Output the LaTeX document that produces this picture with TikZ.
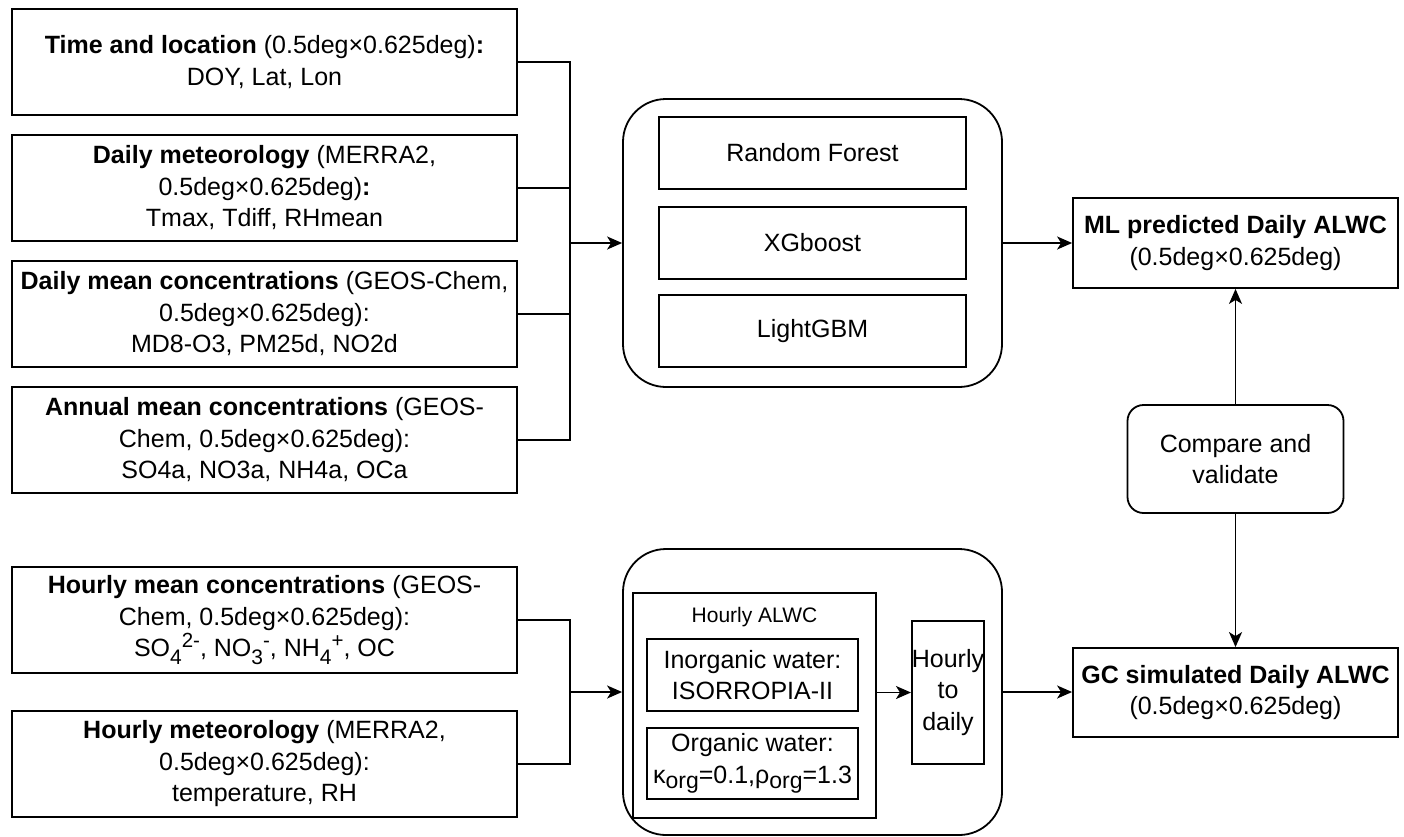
\documentclass[tikz,border=0pt]{standalone}
\usepackage{fontspec}
\setmainfont{Liberation Sans}
\usetikzlibrary{arrows.meta}
\newcommand\mysb[1]{\raisebox{-0.3em}{\fontsize{21}{21}\selectfont #1}}
\newcommand\mysp[1]{\raisebox{0.38em}{\fontsize{20.5}{20.5}\selectfont #1}}
\newcommand\myorg[1]{\raisebox{-0.22em}{\fontsize{23}{23}\selectfont #1}}
\tikzset{
  base/.style={draw, line width=1.8pt, inner sep=0pt, align=center, font=\fontsize{25}{31.5}\selectfont},
  box/.style={base, rectangle},
  grp/.style={base, rectangle, rounded corners=43pt},
  conn/.style={line width=1.8pt},
  arr/.style={conn, -{Stealth[length=15pt,width=13pt,inset=4pt]}},
}
\begin{document}
\begin{tikzpicture}[x=1pt,y=-1pt]
\fill[white] (0,0) rectangle (1404,836);
\useasboundingbox (0,0) rectangle (1404,836);
% left input boxes
\node[box, minimum width=505pt, minimum height=106pt] (b1) at (264.5,62)
  {\textbf{Time and location} (0.5deg×0.625deg)\textbf{:}\\DOY, Lat, Lon};
\node[box, minimum width=505pt, minimum height=106pt] (b2) at (264.5,188)
  {\textbf{Daily meteorology} (MERRA2,\\0.5deg×0.625deg)\textbf{:}\\Tmax, Tdiff, RHmean};
\node[box, minimum width=505pt, minimum height=106pt] (b3) at (264.5,314)
  {\textbf{Daily mean concentrations} (GEOS-Chem,\\0.5deg×0.625deg):\\MD8-O3, PM25d, NO2d};
\node[box, minimum width=505pt, minimum height=106pt] (b4) at (264.5,440)
  {\textbf{Annual mean concentrations} (GEOS-\\Chem, 0.5deg×0.625deg):\\SO4a, NO3a, NH4a, OCa};
\node[box, minimum width=505pt, minimum height=106pt] (b5) at (264.5,620)
  {\textbf{Hourly mean concentrations} (GEOS-\\Chem, 0.5deg×0.625deg):\\SO\mysb{4}\mysp{2-}, NO\mysb{3}\mysp{-}, NH\mysb{4}\mysp{+}, OC};
\node[box, minimum width=505pt, minimum height=106pt] (b6) at (264.5,764)
  {\textbf{Hourly meteorology} (MERRA2,\\0.5deg×0.625deg):\\temperature, RH};
% ML group
\node[grp, minimum width=379pt, minimum height=288pt] (top) at (812.5,243) {};
\node[box, minimum width=307pt, minimum height=72pt] (rf) at (812.5,153) {Random Forest};
\node[box, minimum width=307pt, minimum height=72pt] (xg) at (812.5,243) {XGboost};
\node[box, minimum width=307pt, minimum height=72pt] (lg) at (812.5,331) {LightGBM};
% GC group
\node[grp, minimum width=379pt, minimum height=286pt] (bot) at (812.5,692) {};
\node[box, minimum width=243pt, minimum height=225pt] (alwc) at (754.5,705.5) {};
\node[font=\fontsize{21}{25}\selectfont, inner sep=0pt] (alwclab) at (754.5,617) {Hourly ALWC};
\node[box, minimum width=211pt, minimum height=72pt] (inorg) at (752.5,675) {Inorganic water:\\ISORROPIA-II};
\node[box, minimum width=211pt, minimum height=71pt] (org) at (752.5,763.5)
  {Organic water:\\κ\myorg{org}=0.1,ρ\myorg{org}=1.3};
\node[box, minimum width=72pt, minimum height=143pt] (h2d) at (948,692.5) {Hourly\\to\\daily};
% outputs
\node[box, minimum width=325pt, minimum height=90pt] (ml) at (1235.5,243)
  {\textbf{ML predicted Daily ALWC}\\(0.5deg×0.625deg)};
\node[box, minimum width=325pt, minimum height=89pt] (gc) at (1235.5,692.5)
  {\textbf{GC simulated Daily ALWC}\\(0.5deg×0.625deg)};
\node[base, rectangle, rounded corners=16pt, minimum width=216pt, minimum height=108pt] (cmp) at (1235.5,459)
  {Compare and\\validate};
% connectors
\coordinate (busA) at (570,243);
\coordinate (busB) at (570,692);
\draw[conn] (b1.east) -| (busA);
\draw[conn] (b2.east) -| (busA);
\draw[conn] (b3.east) -| (busA);
\draw[conn] (b4.east) -| (busA);
\draw[arr] (busA) -- (top.west);
\draw[conn] (b5.east) -| (busB);
\draw[conn] (b6.east) -| (busB);
\draw[arr] (busB) -- (bot.west);
\draw[arr] (top.east) -- (ml.west);
\draw[arr] (alwc.east |- h2d.west) -- (h2d.west);
\draw[arr] (bot.east) -- (gc.west |- bot.east);
\draw[arr] (cmp.north) -- (ml.south);
\draw[arr] (cmp.south) -- (gc.north);
\end{tikzpicture}
\end{document}
